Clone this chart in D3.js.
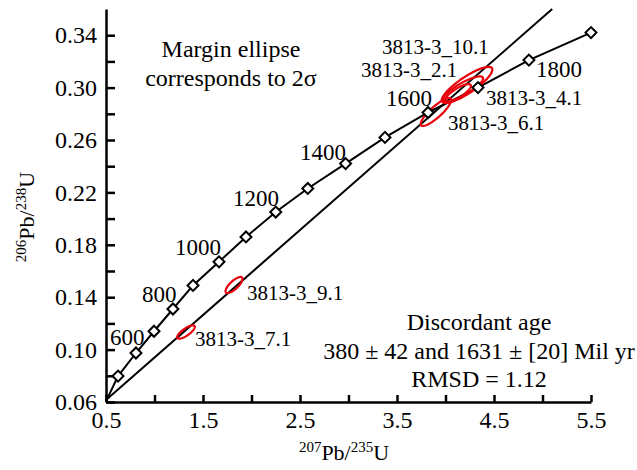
<!DOCTYPE html>
<html>
<head>
<meta charset="utf-8">
<script src="https://cdn.jsdelivr.net/npm/d3@7"></script>
<style>
  body { margin: 0; background: #fff; }
</style>
</head>
<body>
<script>
// concordia points (marked with diamonds) and their ages
const concordiaAge = [500, 600, 700, 800, 900, 1000, 1100, 1200, 1300, 1400, 1500, 1600, 1700, 1800, 1900];
const concordiaX = [0.624, 0.809, 0.995, 1.19, 1.397, 1.665, 1.943, 2.25, 2.58, 2.97, 3.376, 3.82, 4.335, 4.86, 5.5];
const concordiaY = [0.0798, 0.0974, 0.114, 0.131, 0.149, 0.167, 0.186, 0.205, 0.223, 0.242, 0.262, 0.281, 0.300, 0.321, 0.342];
const concordiaStart = [0.5, 0.0605];

// discordia line ends
const discordiaX = [0.5, 5.1];
const discordiaY = [0.0615, 0.36];

// analyses (2 sigma error ellipses)
const spotNames = ["3813-3_7.1", "3813-3_9.1", "3813-3_6.1", "3813-3_4.1", "3813-3_2.1", "3813-3_10.1"];
const spotX = [1.325, 1.82, 3.902, 4.129, 4.18, 4.222];
const spotY = [0.1134, 0.1493, 0.2814, 0.2959, 0.2989, 0.302];
const spotSX = [0.0909, 0.0876, 0.1578, 0.1334, 0.2077, 0.261];
const spotSY = [0.00508, 0.00615, 0.01068, 0.00673, 0.00963, 0.01378];
const spotRho = [0.78, 0.764, 0.858, 0.806, 0.84, 0.849];

const xTicks = [0.5, 1, 1.5, 2, 2.5, 3, 3.5, 4, 4.5, 5, 5.5];
const xTickLabels = ["0.5", "", "1.5", "", "2.5", "", "3.5", "", "4.5", "", "5.5"];
const yTicks = [0.06, 0.08, 0.10, 0.12, 0.14, 0.16, 0.18, 0.20, 0.22, 0.24, 0.26, 0.28, 0.30, 0.32, 0.34];
const yTickLabels = ["0.06", "", "0.10", "", "0.14", "", "0.18", "", "0.22", "", "0.26", "", "0.30", "", "0.34"];

const ageLabels = ["600", "800", "1000", "1200", "1400", "1600", "1800"];
const notes = ["Discordant age", "380 \u00b1 42 and 1631 \u00b1 [20] Mil yr", "RMSD = 1.12"];

// where the labels sit, in data units (left edge, baseline)
const ageLabelPos = [[0.541, 0.1035], [0.871, 0.1363], [1.211, 0.1722], [1.809, 0.2096], [2.5, 0.2447], [3.387, 0.286], [4.933, 0.308]];
const spotLabelPos = [[1.418, 0.1027], [1.954, 0.1379], [4.026, 0.2676], [4.418, 0.2867], [3.129, 0.3081], [3.345, 0.3257]];

var w = 637, h = 470;
const svg = d3.select("body").append("svg")
  .attr("width", w)
  .attr("height", h);

const xScale = d3.scaleLinear().domain([0.5, 5.5]).range([106, 591]);
const yScale = d3.scaleLinear().domain([0.06, 0.36]).range([402, 9]);

// axes
var xAxis = svg.append("g")
  .attr("transform", "translate(0," + yScale(0.06) + ")")
  .call(d3.axisBottom(xScale)
    .tickValues(xTicks)
    .tickSizeInner(-7)
    .tickSizeOuter(0)
    .tickPadding(9)
    .tickFormat((d, i) => xTickLabels[i]));
var yAxis = svg.append("g")
  .attr("transform", "translate(" + xScale(0.5) + ",0)")
  .call(d3.axisLeft(yScale)
    .tickValues(yTicks)
    .tickSizeInner(-9)
    .tickSizeOuter(0)
    .tickPadding(9)
    .tickFormat((d, i) => yTickLabels[i]));
svg.selectAll(".domain").attr("stroke", "#000").attr("stroke-width", 2.5);
svg.selectAll(".tick line").attr("stroke", "#000").attr("stroke-width", 2.5);
svg.selectAll(".tick text").attr("font-size", 24).attr("fill", "#000");

// axis titles
const xt = svg.append("text")
  .attr("x", 344).attr("y", 460)
  .attr("text-anchor", "middle")
  .attr("font-size", 22);
xt.append("tspan").attr("font-size", 15).attr("dy", -8).text("207");
xt.append("tspan").attr("dy", 8).text("Pb/");
xt.append("tspan").attr("font-size", 15).attr("dy", -8).text("235");
xt.append("tspan").attr("dy", 8).text("U");

const yt = svg.append("text")
  .attr("transform", "translate(34,217) rotate(-90)")
  .attr("text-anchor", "middle")
  .attr("font-size", 22);
yt.append("tspan").attr("font-size", 15).attr("dy", -8).text("206");
yt.append("tspan").attr("dy", 8).text("Pb/");
yt.append("tspan").attr("font-size", 15).attr("dy", -8).text("238");
yt.append("tspan").attr("dy", 8).text("U");

// discordia
svg.append("line")
  .attr("x1", xScale(discordiaX[0])).attr("y1", yScale(discordiaY[0]))
  .attr("x2", xScale(discordiaX[1])).attr("y2", yScale(discordiaY[1]))
  .attr("stroke", "#000").attr("stroke-width", 2);

// concordia
const cPts = [concordiaStart].concat(concordiaX.map((x, i) => [x, concordiaY[i]]));
svg.append("path")
  .attr("d", d3.line().x(d => xScale(d[0])).y(d => yScale(d[1]))(cPts))
  .attr("fill", "none").attr("stroke", "#000").attr("stroke-width", 2);

// error ellipses
const ellipse = function(i){
  const pts = [];
  const k = Math.sqrt(1 - spotRho[i] * spotRho[i]);
  for(let j = 0; j < 72; j++){
    const t = j / 72 * 2 * Math.PI;
    const a = Math.cos(t), b = Math.sin(t);
    pts.push([spotX[i] + spotSX[i] * a, spotY[i] + spotSY[i] * (spotRho[i] * a + k * b)]);
  }
  return d3.line().x(d => xScale(d[0])).y(d => yScale(d[1])).curve(d3.curveLinearClosed)(pts);
}
svg.selectAll(".spot")
  .data(spotNames)
  .enter()
  .append("path")
  .attr("class", "spot")
  .attr("d", (d, i) => ellipse(i))
  .attr("fill", "none")
  .attr("stroke", "#e8000b")
  .attr("stroke-width", 2.2);

// diamonds
svg.selectAll(".age")
  .data(concordiaAge)
  .enter()
  .append("path")
  .attr("class", "age")
  .attr("d", d3.symbol().type(d3.symbolSquare).size(60))
  .attr("transform", (d, i) => "translate(" + xScale(concordiaX[i]) + "," + yScale(concordiaY[i]) + ") rotate(45)")
  .attr("fill", "#fff")
  .attr("stroke", "#000")
  .attr("stroke-width", 2);

// labels
svg.selectAll(".agelab")
  .data(ageLabels)
  .enter()
  .append("text")
  .attr("x", (d, i) => xScale(ageLabelPos[i][0]))
  .attr("y", (d, i) => yScale(ageLabelPos[i][1]))
  .attr("font-size", 23)
  .text(d => d);

svg.selectAll(".spotlab")
  .data(spotNames)
  .enter()
  .append("text")
  .attr("x", (d, i) => xScale(spotLabelPos[i][0]))
  .attr("y", (d, i) => yScale(spotLabelPos[i][1]))
  .attr("font-size", 21)
  .text(d => d);

const marginNote = svg.append("text")
  .attr("text-anchor", "middle")
  .attr("font-size", 24);
marginNote.append("tspan").attr("x", 231).attr("y", 57).text("Margin ellipse");
marginNote.append("tspan").attr("x", 231).attr("y", 86).text("corresponds to 2\u03c3");

svg.selectAll(".note")
  .data(notes)
  .enter()
  .append("text")
  .attr("x", 479)
  .attr("y", (d, i) => 330 + i * 28.5)
  .attr("text-anchor", "middle")
  .attr("font-size", 24)
  .text(d => d);

svg.selectAll("text").style("font-family", "'Liberation Serif'").attr("fill", "#000");
</script>
</body>
</html>
